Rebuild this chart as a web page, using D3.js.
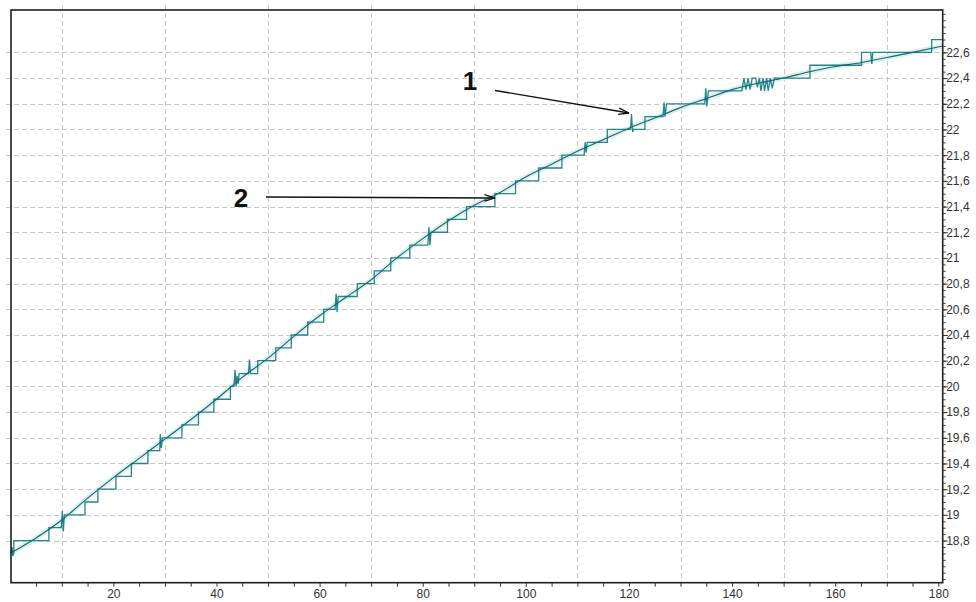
<!DOCTYPE html>
<html>
<head>
<meta charset="utf-8">
<script src="https://cdn.jsdelivr.net/npm/d3@7"></script>
<style>
  html, body { margin: 0; padding: 0; background: #ffffff; }
  svg { display: block; }
</style>
</head>
<body>
<svg id="chart" width="976" height="602"></svg>
<script>
// ---------------- data ----------------
// smooth trend curve (line 2)
const trendX = [0, 5, 10, 15, 20, 25, 30, 35, 40, 45, 50, 55, 60, 65, 70, 75, 80, 85, 90, 95,
                100, 105, 110, 115, 120, 125, 130, 135, 140, 145, 150, 155, 160, 165, 170, 175, 180.85];
const trendY = [18.70, 18.82, 18.96, 19.13, 19.29, 19.44, 19.59, 19.74, 19.90, 20.07, 20.22, 20.39,
                20.55, 20.69, 20.83, 21.00, 21.15, 21.29, 21.41, 21.51, 21.63, 21.73, 21.83, 21.92,
                22.01, 22.09, 22.17, 22.24, 22.31, 22.36, 22.40, 22.45, 22.49, 22.52, 22.56, 22.60, 22.65];

const measuredX = [0.15, 0.35, 0.5, 0.7, 0.7, 7.5, 7.5,
  9.9, 10.1, 10.3, 10.5, 14.5, 14.5, 17.0, 17.0, 20.5, 20.5, 23.5, 23.5, 26.7, 26.7,
  29.0, 29.1, 29.3, 29.5, 33.3, 33.3, 36.5, 36.5, 39.5, 39.5, 42.7, 42.7,
  43.4, 43.6, 43.8, 44.0, 44.2, 44.4, 46.2, 46.4, 46.6, 48.0, 48.0,
  51.5, 51.5, 54.5, 54.5, 57.7, 57.7, 60.8, 60.8,
  63.0, 63.2, 63.4, 63.6, 67.3, 67.3, 70.6, 70.6, 73.8, 73.8, 77.5, 77.5,
  81.0, 81.2, 81.4, 81.6, 84.8, 84.8, 88.5, 88.5, 94.0, 94.0, 98.0, 98.0,
  102.5, 102.5, 107.0, 107.0, 111.3, 111.5, 111.7, 111.9,
  115.8, 115.8, 120.3, 120.5, 120.7, 120.9, 123.1, 123.1,
  126.6, 126.8, 127.0, 127.3, 134.7, 134.9, 135.1, 135.4,
  141.9, 142.3, 142.7, 143.1, 143.5, 143.9, 144.6, 144.9, 145.3, 145.6, 146.0, 146.3,
  146.7, 147.0, 147.4, 147.8, 148.2, 155.1, 155.1, 165.1, 165.1,
  166.9, 167.1, 167.3, 178.7, 178.7, 180.85];
const measuredY = [18.70, 18.75, 18.68, 18.70, 18.80, 18.80, 18.90,
  18.90, 19.03, 18.87, 19.00, 19.00, 19.10, 19.10, 19.20, 19.20, 19.30, 19.30, 19.40, 19.40, 19.50,
  19.50, 19.63, 19.52, 19.60, 19.60, 19.70, 19.70, 19.80, 19.80, 19.90, 19.90, 20.00,
  20.00, 20.13, 20.00, 20.08, 20.02, 20.10, 20.10, 20.21, 20.10, 20.10, 20.20,
  20.20, 20.30, 20.30, 20.40, 20.40, 20.50, 20.50, 20.60,
  20.60, 20.72, 20.58, 20.70, 20.70, 20.80, 20.80, 20.90, 20.90, 21.00, 21.00, 21.10,
  21.10, 21.24, 21.10, 21.20, 21.20, 21.30, 21.30, 21.40, 21.40, 21.50, 21.50, 21.60,
  21.60, 21.70, 21.70, 21.80, 21.80, 21.90, 21.82, 21.90,
  21.90, 22.00, 22.00, 22.12, 21.98, 22.00, 22.00, 22.10,
  22.10, 22.21, 22.10, 22.20, 22.20, 22.32, 22.18, 22.30,
  22.30, 22.40, 22.31, 22.40, 22.31, 22.40, 22.40, 22.33, 22.40, 22.30, 22.40, 22.30,
  22.40, 22.30, 22.40, 22.32, 22.40, 22.40, 22.50, 22.50, 22.60,
  22.60, 22.51, 22.60, 22.60, 22.70, 22.70];

// axis ticks
const xLabelTicks = [20, 40, 60, 80, 100, 120, 140, 160, 180];
const xGridTicks = [10, 30, 50, 70, 90, 110, 130, 150, 170];
const yLabelTicks = [18.8, 19.0, 19.2, 19.4, 19.6, 19.8, 20.0, 20.2, 20.4, 20.6, 20.8,
                     21.0, 21.2, 21.4, 21.6, 21.8, 22.0, 22.2, 22.4, 22.6];

// annotations
const annoLabels = ["1", "2"];

// ---------------- drawing ----------------
const svg = d3.select("#chart");
const L = 11, R = 942.7, T = 10, B = 582.7;

const x = d3.scaleLinear().domain([0.15, 180.85]).range([L, R]);
const y = d3.scaleLinear().domain([18.472, 22.93]).range([B, T]);

const fmt = v => d3.format("~g")(+v.toFixed(1)).replace(".", ",");

// gridlines
const grid = svg.append("g")
  .attr("stroke", "#c9c9c9").attr("stroke-width", 1).attr("stroke-dasharray", "5,3")
  .attr("shape-rendering", "crispEdges");
grid.selectAll("line.h").data(yLabelTicks).join("line")
  .attr("x1", 6).attr("x2", R)
  .attr("y1", d => Math.round(y(d)) + 0.5).attr("y2", d => Math.round(y(d)) + 0.5);
grid.selectAll("line.v").data(xGridTicks).join("line")
  .attr("y1", 5).attr("y2", B)
  .attr("x1", d => Math.round(x(d)) + 0.5).attr("x2", d => Math.round(x(d)) + 0.5);

// series
const trendPts = trendX.map((u, i) => [u, trendY[i]]);
const measPts = measuredX.map((u, i) => [u, measuredY[i]]);

const smoothLine = d3.line().x(d => x(d[0])).y(d => y(d[1])).curve(d3.curveMonotoneX);
const rawLine = d3.line().x(d => x(d[0])).y(d => y(d[1]));

svg.append("clipPath").attr("id", "plotclip")
  .append("rect").attr("x", L).attr("y", T).attr("width", R - L).attr("height", B - T);

const plot = svg.append("g").attr("clip-path", "url(#plotclip)");
plot.append("path").datum(trendPts)
  .attr("fill", "none").attr("stroke", "#d2f2f4").attr("stroke-width", 5)
  .attr("d", smoothLine);
plot.append("path").datum(measPts)
  .attr("fill", "none").attr("stroke", "#23868c").attr("stroke-width", 1.3)
  .attr("stroke-linejoin", "miter")
  .attr("d", rawLine);
plot.append("path").datum(trendPts)
  .attr("fill", "none").attr("stroke", "#2c5f63").attr("stroke-width", 1.1)
  .attr("d", smoothLine);

// frame
svg.append("rect").attr("x", L).attr("y", T).attr("width", R - L).attr("height", B - T)
  .attr("fill", "none").attr("stroke", "#1e1e1e").attr("stroke-width", 1.6);

// bottom axis
const xAxis = d3.axisBottom(x)
  .tickValues(d3.range(5, 181, 5))
  .tickSize(4)
  .tickFormat(d => xLabelTicks.includes(d) ? String(d) : "");
const gx = svg.append("g").attr("transform", `translate(0,${B})`).call(xAxis);
gx.select(".domain").remove();
gx.selectAll(".tick line").attr("stroke", "#333");
gx.selectAll(".tick text").attr("font-family", "Liberation Sans, Arial, sans-serif")
  .attr("font-size", 12).attr("fill", "#333").attr("dy", 0).attr("y", 15.3);

// right axis – minor ticks
const minorVals = d3.range(3700, 4590, 10).map(v => v / 200).filter(v => v > 18.47 && v < 22.93);
const yMinor = d3.axisRight(y).tickValues(minorVals).tickSize(3).tickFormat("");
const gym = svg.append("g").attr("transform", `translate(${R},0)`).call(yMinor);
gym.select(".domain").remove();
gym.selectAll(".tick line").attr("stroke", "#444");

// right axis – labels
const yAxis = d3.axisRight(y).tickValues(yLabelTicks).tickSize(5).tickPadding(0).tickFormat(fmt);
const gy = svg.append("g").attr("transform", `translate(${R},0)`).call(yAxis);
gy.select(".domain").remove();
gy.selectAll(".tick line").attr("stroke", "#333");
gy.selectAll(".tick text").attr("font-family", "Liberation Sans, Arial, sans-serif")
  .attr("font-size", 12).attr("fill", "#333").attr("x", 3.5);

// annotations
function arrow(x1, y1, x2, y2) {
  const g = svg.append("g").attr("stroke", "#111").attr("stroke-width", 1.3).attr("fill", "none");
  g.append("line").attr("x1", x1).attr("y1", y1).attr("x2", x2).attr("y2", y2);
  const a = Math.atan2(y2 - y1, x2 - x1);
  const len = 11, spread = 0.3;
  [spread, -spread].forEach(s => {
    g.append("line").attr("x1", x2).attr("y1", y2)
      .attr("x2", x2 - len * Math.cos(a + s)).attr("y2", y2 - len * Math.sin(a + s));
  });
}
arrow(495, 90.5, 629, 113);
arrow(266, 197, 495, 198);

svg.append("text").attr("x", 470).attr("y", 90).attr("text-anchor", "middle")
  .attr("font-family", "Liberation Sans, Arial, sans-serif").attr("font-weight", "bold")
  .attr("font-size", 26).attr("fill", "#111").text(annoLabels[0]);
svg.append("text").attr("x", 241).attr("y", 207).attr("text-anchor", "middle")
  .attr("font-family", "Liberation Sans, Arial, sans-serif").attr("font-weight", "bold")
  .attr("font-size", 26).attr("fill", "#111").text(annoLabels[1]);
</script>
</body>
</html>
